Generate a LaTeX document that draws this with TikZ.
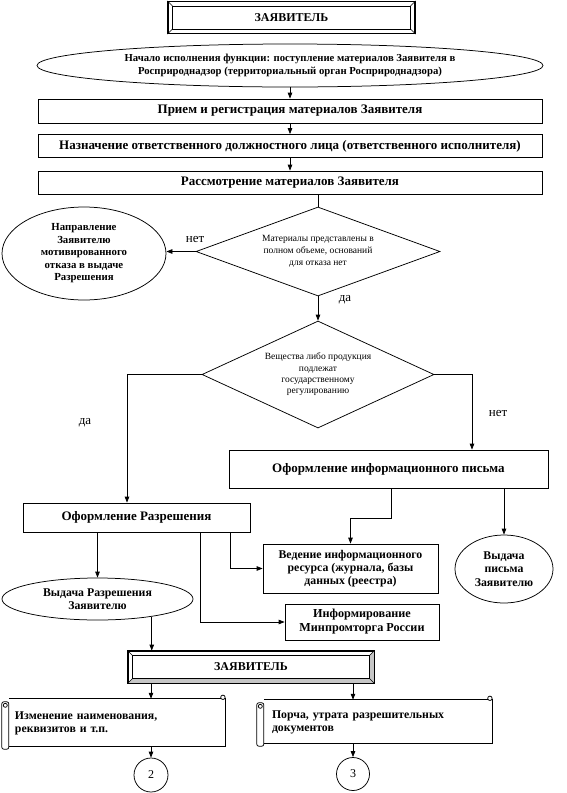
\documentclass[tikz,border=0pt]{standalone}
\usepackage{fontspec}
\setmainfont{Liberation Serif}
\usetikzlibrary{shapes.geometric,arrows.meta,calc}
\newcommand\bevelfr[2]{%
  \draw[line width=0.5pt] ($(#1.north west)+(#2,#2)$) rectangle ($(#1.south east)+(-#2,-#2)$);
  \draw[line width=0.5pt] (#1.north west) -- ++(#2,#2) (#1.north east) -- ++(-#2,#2)
    (#1.south west) -- ++(#2,-#2) (#1.south east) -- ++(-#2,-#2);}
\newcommand\scrollfr[1]{%
  \draw[ln] ($(#1.north west)+(7,2)$) -- ($(#1.north east)+(-4.5,2)$);
  \draw[ln] ($(#1.north east)+(0,1)$) -- ($(#1.south east)+(0,-3)$) -- ($(#1.south west)+(7,-3)$);
  \draw[ln] ($(#1.north east)+(-2.3,0.5)$) circle (2.2pt);
  \draw[ln,rounded corners=2pt] ($(#1.north west)+(7,5)$) -- ($(#1.north west)+(0,5)$) -- (#1.south west) -- ($(#1.south west)+(7,0)$) -- cycle;
  \draw[ln] ($(#1.north west)+(3.5,8.5)$) circle (2pt);}
\begin{document}
\begin{tikzpicture}[x=1pt,y=-1pt,
  ln/.style={line width=0.75pt},
  arr/.style={ln,-{Triangle[length=6pt,width=4.5pt]}},
  box/.style={draw,line width=0.75pt,inner sep=0pt,align=center},
  ell/.style={draw,ellipse,line width=0.75pt,inner sep=0pt,align=center},
  dia/.style={draw,diamond,line width=0.75pt,inner sep=0pt,align=center,font=\fontsize{9.5}{11.8}\selectfont},
  bigtxt/.style={font=\fontsize{13}{14}\selectfont\bfseries},
  midtxt/.style={font=\fontsize{11.8}{13.2}\selectfont\bfseries},
  lbl/.style={font=\fontsize{13}{14}\selectfont,inner sep=0pt}]
\useasboundingbox (0,0) rectangle (567,793);

\node[box,line width=1.2pt,minimum width=247pt,minimum height=32pt,font=\fontsize{12}{13}\selectfont\bfseries] (z1) at (291.5,17.5) {ЗАЯВИТЕЛЬ};
\bevelfr{z1}{5}

\node[ell,minimum width=506pt,minimum height=43pt,font=\fontsize{10.7}{13.5}\selectfont\bfseries] (e0) at (290,65.5)
  {Начало исполнения функции: поступление материалов Заявителя в\\Росприроднадзор (территориальный орган Росприроднадзора)};
\node[box,bigtxt,minimum width=504pt,minimum height=24pt] (b1) at (290,111) {Прием и регистрация материалов Заявителя};
\node[box,bigtxt,minimum width=504pt,minimum height=23pt] (b2) at (290,146) {Назначение ответственного должностного лица (ответственного исполнителя)};
\node[box,bigtxt,minimum width=504pt,minimum height=23pt] (b3) at (290,182.5) {Рассмотрение материалов Заявителя};

\node[dia,aspect=2.7,minimum width=244pt,minimum height=89pt] (d1) at (318,251.5)
  {Материалы представлены в\\полном объеме, оснований\\для отказа нет};
\node[ell,minimum width=164pt,minimum height=93pt,font=\fontsize{10.8}{12.5}\selectfont\bfseries] (eL) at (84,253.5)
  {Направление\\Заявителю\\мотивированного\\отказа в выдаче\\Разрешения};
\node[dia,aspect=2.2,minimum width=232pt,minimum height=107pt,font=\fontsize{9.5}{11.3}\selectfont] (d2) at (318,374.5)
  {Вещества либо продукция\\подлежат\\государственному\\регулированию};

\node[lbl] (l1) at (195,239) {нет};
\node[lbl] (l2) at (345,300) {да};
\node[lbl] (l3) at (85,423) {да};
\node[lbl] (l4) at (498,413) {нет};

\node[box,bigtxt,minimum width=319pt,minimum height=38pt] (bI) at (388.5,469) {Оформление информационного письма};
\node[box,bigtxt,minimum width=227pt,minimum height=29pt] (bR) at (136.5,517.5) {Оформление Разрешения};
\node[box,midtxt,minimum width=175pt,minimum height=49pt] (bV) at (350.5,568.5)
  {Ведение информационного\\ресурса (журнала, базы\\данных (реестра)};
\node[ell,minimum width=98pt,minimum height=68pt,font=\fontsize{11.8}{13.5}\selectfont\bfseries] (eP) at (504,569)
  {Выдача\\письма\\Заявителю};
\node[ell,midtxt,minimum width=191pt,minimum height=42pt] (eR) at (97.5,599) {Выдача Разрешения\\Заявителю};
\node[box,minimum width=154pt,minimum height=36pt,font=\fontsize{12.2}{14}\selectfont\bfseries] (bM) at (362,622) {Информирование\\Минпромторга России};

\node[box,minimum width=246pt,minimum height=32pt,font=\fontsize{12}{13}\selectfont\bfseries] (z2) at (251,667) {ЗАЯВИТЕЛЬ};
\fill[gray!45] ($(z2.north east)+(-5,5)$) -- ($(z2.north east)+(0,0)$) -- (z2.south east) -- (z2.south west) -- ($(z2.south west)+(5,-5)$) -- ($(z2.south east)+(-5,-5)$) -- cycle;
\draw[line width=0.75pt] (z2.north west) rectangle (z2.south east);
\bevelfr{z2}{5}

\node[midtxt,inner xsep=13pt,inner ysep=0pt,minimum width=223pt,minimum height=52pt,text width=197pt,align=left] (s1) at (113.5,723)
  {Изменение наименования,\\реквизитов и т.п.};
\scrollfr{s1}
\node[midtxt,inner xsep=15pt,inner ysep=0pt,minimum width=235pt,minimum height=48pt,text width=205pt,align=left] (s2) at (374.5,722)
  {Порча, утрата разрешительных\\документов};
\scrollfr{s2}

\node[draw,circle,ln,minimum size=34pt,inner sep=0pt,font=\fontsize{12}{13}\selectfont] (c2) at (151,775) {2};
\node[draw,circle,ln,minimum size=33pt,inner sep=0pt,font=\fontsize{12}{13}\selectfont] (c3) at (353,774) {3};

% connectors
\draw[arr] (e0.south) -- (b1.north);
\draw[arr] (b1.south) -- (b2.north);
\draw[arr] (b2.south) -- (b3.north);
\draw[ln] (b3.south -| d1.north) -- (d1.north);
\draw[arr] (d1.west) -- (d1.west -| eL.east);
\draw[arr] (d1.south) -- (d2.north);
\coordinate (kL) at (127,0);
\coordinate (kR) at (472,0);
\draw[arr] (d2.west) -| (kL |- bR.north);
\draw[arr] (d2.east) -| (kR |- bI.north);
\draw[arr] (bR.south -| eR.north) -- (eR.north);
\coordinate (k2) at (230,0);
\coordinate (k3) at (200,0);
\draw[arr] (bR.south -| k2) |- (bV.west);
\draw[arr] (bR.south -| k3) |- (bM.west);
\coordinate (k4) at (391,518);
\draw[arr] (bI.south -| k4) -- (k4) -| (bV.north);
\draw[arr] (bI.south -| eP.north) -- (eP.north);
\draw[arr] (eR.-18) -- (eR.-18 |- z2.north);
\draw[arr] (z2.south -| c2.north) -- ($(s1.north -| c2.north)+(0,2)$);
\draw[arr] (z2.south -| c3.north) -- ($(s2.north -| c3.north)+(0,2)$);
\draw[arr] ($(s1.south -| c2.north)+(0,-3)$) -- (c2.north);
\draw[arr] ($(s2.south -| c3.north)+(0,-3)$) -- (c3.north);
\end{tikzpicture}
\end{document}
